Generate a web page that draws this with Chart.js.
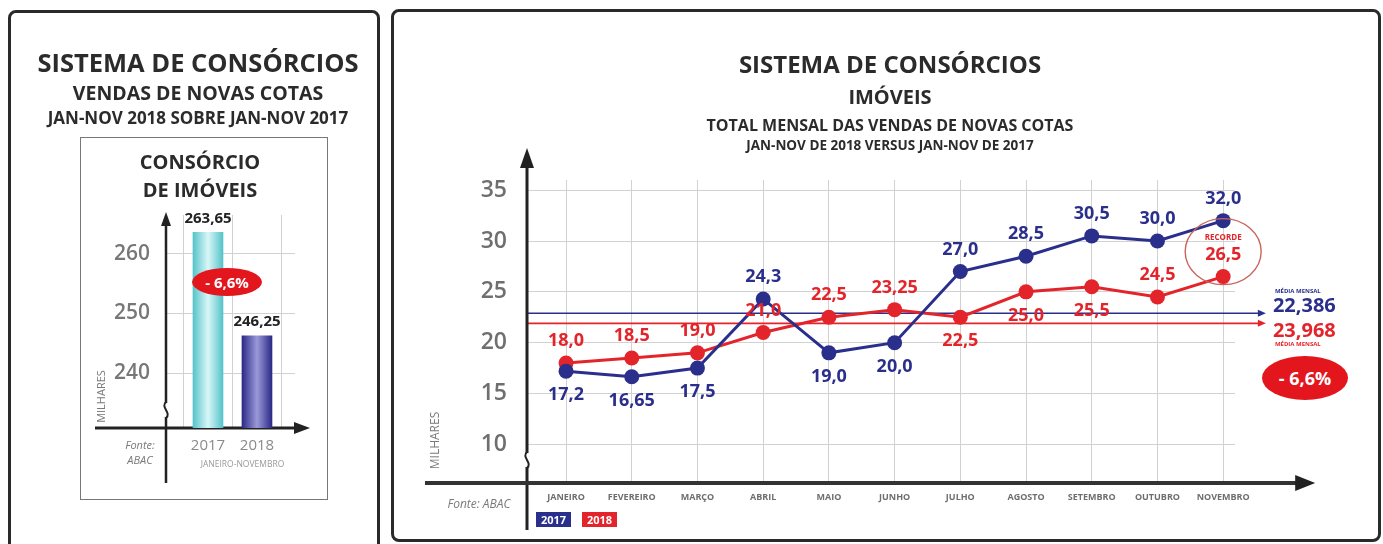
<!DOCTYPE html>
<html>
<head>
<meta charset="utf-8">
<script src="https://cdn.jsdelivr.net/npm/chart.js@4.4.1/dist/chart.umd.min.js"></script>
<style>
body{margin:0;background:#fff;font-family:'Open Sans',sans-serif;}
#wrap{position:relative;width:1383px;height:544px;overflow:hidden;background:#fff;}
.panel{position:absolute;border:3px solid #2a2a2a;border-radius:8px;box-sizing:border-box;}
.caixa{position:absolute;border:1.5px solid #777;box-sizing:border-box;}
.t{position:absolute;text-align:center;font-weight:700;color:#2b2b2b;white-space:nowrap;}
.g{position:absolute;white-space:nowrap;color:#7a7a7a;}
.selo{position:absolute;background:#e3161e;border-radius:50%;color:#fff;font-weight:700;text-align:center;}
.leg{position:absolute;color:#fff;font-weight:700;font-size:11px;text-align:center;line-height:15px;}
canvas{position:absolute;top:0;}
</style>
</head>
<body>
<div id="wrap">
  <div class="panel" style="left:8px;top:10px;width:372px;height:560px;"></div>
  <div class="panel" style="left:391px;top:9px;width:990px;height:533px;"></div>
  <div class="caixa" style="left:80px;top:137px;width:248px;height:363px;"></div>

  <canvas id="barras" width="390" height="544" style="left:0px;"></canvas>
  <canvas id="linhas" width="993" height="544" style="left:390px;"></canvas>

  <!-- painel esquerdo -->
  <div class="t" style="left:-2px;width:400px;top:46px;font-size:25.5px;line-height:32px;">SISTEMA DE CONSÓRCIOS</div>
  <div class="t" style="left:-2px;width:400px;top:80px;font-size:19.5px;line-height:26px;">VENDAS DE NOVAS COTAS</div>
  <div class="t" style="left:-2px;width:400px;top:107px;font-size:17px;line-height:22px;">JAN-NOV 2018 SOBRE JAN-NOV 2017</div>
  <div class="t" style="left:0px;width:400px;top:149px;font-size:20px;line-height:26px;">CONSÓRCIO</div>
  <div class="t" style="left:0px;width:400px;top:177px;font-size:20px;line-height:26px;">DE IMÓVEIS</div>
  <div class="selo" style="left:192px;top:268px;width:70px;height:28px;font-size:15px;line-height:28px;">- 6,6%</div>
  <div class="g" style="left:110px;width:60px;top:437px;font-size:11px;font-style:italic;text-align:center;">Fonte:</div>
  <div class="g" style="left:110px;width:60px;top:452px;font-size:11px;font-style:italic;text-align:center;">ABAC</div>
  <div class="g" style="left:60px;width:80px;top:389px;font-size:11px;text-align:center;transform:rotate(-90deg);">MILHARES</div>

  <!-- painel direito -->
  <div class="t" style="left:690px;width:400px;top:49px;font-size:24px;line-height:30px;">SISTEMA DE CONSÓRCIOS</div>
  <div class="t" style="left:690px;width:400px;top:84px;font-size:20px;line-height:26px;">IMÓVEIS</div>
  <div class="t" style="left:640px;width:500px;top:114px;font-size:16px;line-height:22px;">TOTAL MENSAL DAS VENDAS DE NOVAS COTAS</div>
  <div class="t" style="left:640px;width:500px;top:136px;font-size:13.5px;line-height:18px;">JAN-NOV DE 2018 VERSUS JAN-NOV DE 2017</div>
  <div class="g" style="left:394px;width:80px;top:432px;font-size:12px;text-align:center;transform:rotate(-90deg);">MILHARES</div>
  <div class="g" style="left:430px;width:98px;top:495px;font-size:12px;font-style:italic;text-align:center;">Fonte: ABAC</div>
  <div class="leg" style="left:536px;top:512px;width:35px;height:15px;background:#2b2f8c;">2017</div>
  <div class="leg" style="left:582px;top:512px;width:35px;height:15px;background:#e3252b;">2018</div>
  <div class="selo" style="left:1262px;top:356px;width:86px;height:44px;font-size:18px;line-height:44px;">- 6,6%</div>
</div>

<script>
// dados
const meses = ['JANEIRO','FEVEREIRO','MARÇO','ABRIL','MAIO','JUNHO','JULHO','AGOSTO','SETEMBRO','OUTUBRO','NOVEMBRO'];
const vendas2017 = [17.2, 16.65, 17.5, 24.3, 19.0, 20.0, 27.0, 28.5, 30.5, 30.0, 32.0];
const vendas2018 = [18.0, 18.5, 19.0, 21.0, 22.5, 23.25, 22.5, 25.0, 25.5, 24.5, 26.5];
const ticksMes = [10, 15, 20, 25, 30, 35];
const mediaLinha2017 = 22.9;
const mediaLinha2018 = 21.9;
const mediaTexto2017 = '22,386';
const mediaTexto2018 = '23,968';

const anos = ['2017', '2018'];
const totais = [263.65, 246.25];
const ticksTotal = [240, 250, 260];

// estilo
const AZUL = '#2b2f8c';
const VERMELHO = '#e3252b';
const posRot2017 = ['b','b','b','a','b','b','a','a','a','a','a'];
const posRot2018 = ['a','a','a','a','a','a','b','b','b','a','a'];

function fmt(v){
    const s = (Math.round(v*100) % 10 !== 0) ? v.toFixed(2) : v.toFixed(1);
    return s.replace('.', ',');
}

function seta(ctx, x1, y1, x2, y2, tam, larg){
    const ang = Math.atan2(y2-y1, x2-x1);
    ctx.beginPath();
    ctx.moveTo(x1, y1);
    ctx.lineTo(x2 - Math.cos(ang)*tam*0.8, y2 - Math.sin(ang)*tam*0.8);
    ctx.stroke();
    ctx.beginPath();
    ctx.moveTo(x2, y2);
    ctx.lineTo(x2 - Math.cos(ang)*tam - Math.sin(ang)*larg, y2 - Math.sin(ang)*tam + Math.cos(ang)*larg);
    ctx.lineTo(x2 - Math.cos(ang)*tam + Math.sin(ang)*larg, y2 - Math.sin(ang)*tam - Math.cos(ang)*larg);
    ctx.closePath();
    ctx.fill();
}

function quebra(ctx, x, y){
    ctx.save();
    ctx.strokeStyle = '#fff';
    ctx.lineWidth = 5;
    ctx.beginPath(); ctx.moveTo(x, y-7); ctx.lineTo(x, y+7); ctx.stroke();
    ctx.strokeStyle = '#222';
    ctx.lineWidth = 2;
    ctx.beginPath();
    ctx.moveTo(x, y-8);
    ctx.bezierCurveTo(x-6, y-3, x+6, y+3, x, y+8);
    ctx.stroke();
    ctx.restore();
}

// ---------- grafico de linhas ----------
const pluginLinhas = {
    id: 'pluginLinhas',
    beforeDatasetsDraw(chart){
        const ctx = chart.ctx, a = chart.chartArea;
        const sx = chart.scales.x, sy = chart.scales.y;
        ctx.save();
        // linhas de media
        const xf = sx.getPixelForValue(10.65);
        [[mediaLinha2017, AZUL], [mediaLinha2018, VERMELHO]].forEach(([v, cor]) => {
            const y = sy.getPixelForValue(v);
            ctx.strokeStyle = cor; ctx.fillStyle = cor; ctx.lineWidth = 1.6;
            seta(ctx, a.left, y, xf, y, 8, 3.5);
        });
        // eixos
        ctx.strokeStyle = '#222'; ctx.fillStyle = '#222';
        ctx.lineWidth = 3;
        seta(ctx, a.left, a.bottom + 47, a.left, a.top - 32, 20, 7);
        ctx.strokeStyle = '#333'; ctx.fillStyle = '#222';
        ctx.lineWidth = 4;
        seta(ctx, a.left - 102, a.bottom, sx.getPixelForValue(11.4), a.bottom, 20, 8);
        quebra(ctx, a.left, a.bottom - 23);
        ctx.restore();
    },
    afterDatasetsDraw(chart){
        const ctx = chart.ctx;
        const sx = chart.scales.x, sy = chart.scales.y;
        ctx.save();
        ctx.textAlign = 'center';
        ctx.textBaseline = 'middle';
        ctx.font = 'bold 18px "Open Sans"';
        [[0, vendas2017, posRot2017, AZUL], [1, vendas2018, posRot2018, VERMELHO]].forEach(([di, vals, pos, cor]) => {
            const meta = chart.getDatasetMeta(di);
            meta.data.forEach((pt, i) => {
                const ly = pt.y + (pos[i] === 'a' ? -22 : 24);
                ctx.fillStyle = cor;
                ctx.fillText(fmt(vals[i]), pt.x, ly);
                if (di === 1 && i === vals.length - 1) {
                    ctx.strokeStyle = '#c8655a';
                    ctx.lineWidth = 1.4;
                    ctx.beginPath();
                    ctx.ellipse(pt.x, ly - 3, 38, 33, 0, 0, Math.PI*2);
                    ctx.stroke();
                    ctx.font = 'bold 8px "Open Sans"';
                    ctx.fillText('RECORDE', pt.x, ly - 17);
                    ctx.font = 'bold 18px "Open Sans"';
                }
            });
        });
        // rotulos das medias
        const xt = sx.getPixelForValue(10.65) + 7;
        const yA = sy.getPixelForValue(mediaLinha2017);
        const yV = sy.getPixelForValue(mediaLinha2018);
        ctx.textAlign = 'left';
        ctx.fillStyle = AZUL;
        ctx.font = 'bold 6px "Open Sans"';
        ctx.fillText('MÉDIA MENSAL', xt + 2, yA - 22);
        ctx.font = 'bold 20px "Open Sans"';
        ctx.fillText(mediaTexto2017, xt, yA - 7);
        ctx.fillStyle = VERMELHO;
        ctx.fillText(mediaTexto2018, xt, yV + 8);
        ctx.font = 'bold 6px "Open Sans"';
        ctx.fillText('MÉDIA MENSAL', xt + 2, yV + 21);
        ctx.restore();
    }
};

new Chart(document.getElementById('linhas'), {
    type: 'line',
    data: {
        datasets: [{
            label: '2017',
            data: vendas2017.map((v, i) => ({x: i, y: v})),
            borderColor: AZUL,
            backgroundColor: AZUL,
            borderWidth: 3,
            pointRadius: 7.5,
            pointBorderWidth: 0,
            pointBackgroundColor: AZUL
        }, {
            label: '2018',
            data: vendas2018.map((v, i) => ({x: i, y: v})),
            borderColor: VERMELHO,
            backgroundColor: VERMELHO,
            borderWidth: 3,
            pointRadius: 7.5,
            pointBorderWidth: 0,
            pointBackgroundColor: VERMELHO
        }]
    },
    options: {
        responsive: false,
        animation: false,
        layout: { padding: { left: 77, right: 148, top: 180, bottom: 31 } },
        plugins: { legend: { display: false }, tooltip: { enabled: false } },
        scales: {
            x: {
                type: 'linear',
                min: -0.594,
                max: 10.18,
                afterBuildTicks: s => { s.ticks = meses.map((m, i) => ({value: i})); },
                afterFit: s => { s.height = 30; },
                grid: { color: '#d2d2d2', drawTicks: false },
                border: { display: false },
                ticks: {
                    padding: 9,
                    color: '#6e6e6e',
                    font: { family: 'Open Sans', size: 9, weight: 'bold' },
                    maxRotation: 0,
                    autoSkip: false,
                    callback: v => meses[v]
                }
            },
            y: {
                min: 6.2,
                max: 36,
                afterBuildTicks: s => { s.ticks = ticksMes.map(v => ({value: v})); },
                afterFit: s => { s.width = 60; },
                grid: { color: '#d2d2d2', drawTicks: false },
                border: { display: false },
                ticks: {
                    padding: 20,
                    color: '#6f6f6f',
                    font: { family: 'Open Sans', size: 23, weight: '600' }
                }
            }
        }
    },
    plugins: [pluginLinhas]
});

// ---------- grafico de barras ----------
const pluginBarras = {
    id: 'pluginBarras',
    beforeDatasetsDraw(chart){
        const ctx = chart.ctx, a = chart.chartArea;
        ctx.save();
        ctx.strokeStyle = '#222'; ctx.fillStyle = '#222';
        ctx.lineWidth = 2.5;
        seta(ctx, a.left, a.bottom + 55, a.left, a.top - 3, 14, 5);
        ctx.lineWidth = 3;
        seta(ctx, a.left - 71, a.bottom, a.right + 15, a.bottom, 16, 6);
        quebra(ctx, a.left, a.bottom - 18);
        ctx.restore();
    },
    afterDatasetsDraw(chart){
        const ctx = chart.ctx;
        const meta = chart.getDatasetMeta(0);
        ctx.save();
        ctx.textAlign = 'center';
        ctx.textBaseline = 'middle';
        ctx.font = 'bold 15px "Open Sans"';
        ctx.fillStyle = '#222';
        meta.data.forEach((b, i) => {
            ctx.fillText(fmt(totais[i]), b.x, b.y - 14);
        });
        const sx = chart.scales.x;
        ctx.font = '8.5px "Open Sans"';
        ctx.fillStyle = '#999';
        ctx.fillText('JANEIRO-NOVEMBRO', (sx.getPixelForValue(0) + sx.getPixelForValue(1)) / 2 + 10, chart.chartArea.bottom + 37);
        ctx.restore();
    }
};

const coresBarra = [['#56c3ca', '#d9f7f8'], ['#2c2987', '#9a9ad8']];

new Chart(document.getElementById('barras'), {
    type: 'bar',
    data: {
        datasets: [{
            data: totais.map((v, i) => ({x: i, y: v})),
            barThickness: 30,
            backgroundColor: ctx => {
                const ch = ctx.chart;
                const i = ctx.dataIndex;
                const par = coresBarra[i] || coresBarra[0];
                if (!ch.chartArea || !ch.scales.x) return par[0];
                const xc = ch.scales.x.getPixelForValue(i);
                const g = ch.ctx.createLinearGradient(xc - 15, 0, xc + 15, 0);
                g.addColorStop(0, par[0]);
                g.addColorStop(0.5, par[1]);
                g.addColorStop(1, par[0]);
                return g;
            }
        }]
    },
    options: {
        responsive: false,
        animation: false,
        layout: { padding: { left: 106, right: 95, top: 215, bottom: 76 } },
        plugins: { legend: { display: false }, tooltip: { enabled: false } },
        scales: {
            x: {
                type: 'linear',
                min: -0.857,
                max: 1.776,
                offset: false,
                afterBuildTicks: s => { s.ticks = anos.map((a, i) => ({value: i})); },
                afterFit: s => { s.height = 40; },
                grid: { color: '#d2d2d2', drawTicks: false },
                border: { display: false },
                ticks: {
                    padding: 9,
                    color: '#8a8a8a',
                    font: { family: 'Open Sans', size: 15 },
                    callback: v => anos[v]
                }
            },
            y: {
                min: 230.76,
                max: 266.55,
                afterBuildTicks: s => { s.ticks = ticksTotal.map(v => ({value: v})); },
                afterFit: s => { s.width = 60; },
                grid: { color: '#d2d2d2', drawTicks: false },
                border: { display: false },
                ticks: {
                    padding: 16,
                    color: '#777',
                    font: { family: 'Open Sans', size: 21, weight: '600' }
                }
            }
        }
    },
    plugins: [pluginBarras]
});
</script>
</body>
</html>
